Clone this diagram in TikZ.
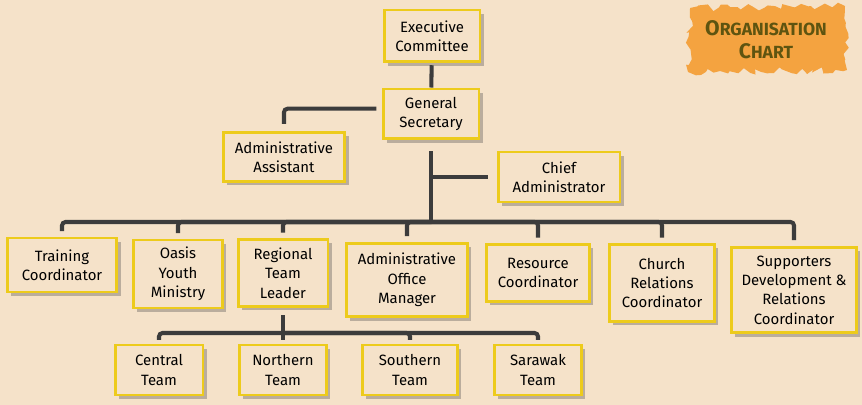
\documentclass[tikz,border=0pt]{standalone}
\usepackage{fontspec}
\setmainfont{Fira Sans}
\usepackage{xcolor}
\usepackage{tikz}
\usetikzlibrary{shadows, decorations.pathmorphing}

\definecolor{paper}{HTML}{F5E2C9}
\definecolor{chalk}{HTML}{EDCB1C}
\definecolor{charcoal}{HTML}{3C3C3C}
\definecolor{crayon}{HTML}{F4A340}
\definecolor{olive}{HTML}{5E5410}

\tikzset{
  post/.style={draw=chalk, line width=1.7pt, fill=paper, align=center,
    inner sep=2pt, font=\fontsize{8.5}{11}\selectfont,
    drop shadow={opacity=0.35, fill=black!70, shadow xshift=2pt, shadow yshift=-2pt}},
  link/.style={draw=charcoal, line width=2.3pt, rounded corners=2pt},
}

\begin{document}
\begin{tikzpicture}[x=0.02cm, y=-0.02cm]
        \fill[paper] (0,0) rectangle (862,405);
        \useasboundingbox (0,0) rectangle (862,405);

        \fill[crayon, decoration={random steps, segment length=3pt, amplitude=2pt}, decorate]
          (690,8) -- (845,6) -- (847,70) -- (688,72) -- cycle;
        \node[olive, font=\bfseries, align=center, inner sep=0pt] (Title) at (766,40)
          {{\fontsize{12}{12}\selectfont O}{\fontsize{10}{12}\selectfont RGANISATION}\\[1pt]
           {\fontsize{12}{12}\selectfont C}{\fontsize{10}{12}\selectfont HART}};

        \coordinate (MainBus) at (431,222);
        \coordinate (TeamBus) at (283,333);

        \node[post, minimum width=1.92cm, minimum height=1.04cm] (ExecComm) at (432,36) {Executive\\Committee};
        \node[post, minimum width=1.92cm, minimum height=1.00cm] (GenSec) at (431,114) {General\\Secretary};
        \node[post, minimum width=2.44cm, minimum height=0.98cm] (AdminAsst) at (284,157) {Administrative\\Assistant};
        \node[post, minimum width=2.44cm, minimum height=1.00cm] (ChiefAdmin) at (559,177) {Chief\\Administrator};

        \node[post, minimum width=2.20cm, minimum height=1.08cm] (Training) at (62,265) {Training\\Coordinator};
        \node[post, minimum width=1.78cm, minimum height=1.36cm] (Oasis) at (178,274) {Oasis\\Youth\\Ministry};
        \node[post, minimum width=1.80cm, minimum height=1.34cm] (RegLeader) at (283,273) {Regional\\Team\\Leader};
        \node[post, minimum width=2.42cm, minimum height=1.48cm] (OfficeMgr) at (407,280) {Administrative\\Office\\Manager};
        \node[post, minimum width=2.06cm, minimum height=1.14cm] (Resource) at (538,273) {Resource\\Coordinator};
        \node[post, minimum width=2.10cm, minimum height=1.54cm] (Church) at (662,283) {Church\\Relations\\Coordinator};
        \node[post, minimum width=2.50cm, minimum height=1.72cm] (Supporters) at (794,290) {Supporters\\Development \&\\Relations\\Coordinator};

        \node[post, minimum width=1.76cm, minimum height=1.00cm] (Central) at (159,370) {Central\\Team};
        \node[post, minimum width=1.74cm, minimum height=1.00cm] (Northern) at (283,370) {Northern\\Team};
        \node[post, minimum width=1.90cm, minimum height=1.00cm] (Southern) at (410,370) {Southern\\Team};
        \node[post, minimum width=1.74cm, minimum height=1.00cm] (Sarawak) at (538,370) {Sarawak\\Team};

        \draw[link, shorten <=1pt] (ExecComm) -- (GenSec);
        \draw[link, shorten <=3pt, shorten >=4pt] ([yshift=3pt]GenSec.west) -| (AdminAsst.north);
        \draw[link, shorten <=6pt] (GenSec.south) -- (MainBus);
        \draw[link, shorten >=5pt] (GenSec.south |- ChiefAdmin.west) -- (ChiefAdmin.west);

        \foreach \post in {Training, Oasis, RegLeader, OfficeMgr, Resource, Church, Supporters}
          \draw[link, shorten >=3pt] (MainBus) -| (\post.north);

        \draw[link, shorten <=4pt] (RegLeader.south) -- (TeamBus);
        \foreach \post in {Central, Northern, Southern, Sarawak}
          \draw[link, shorten >=2pt] (TeamBus) -| (\post.north);
\end{tikzpicture}
\end{document}
